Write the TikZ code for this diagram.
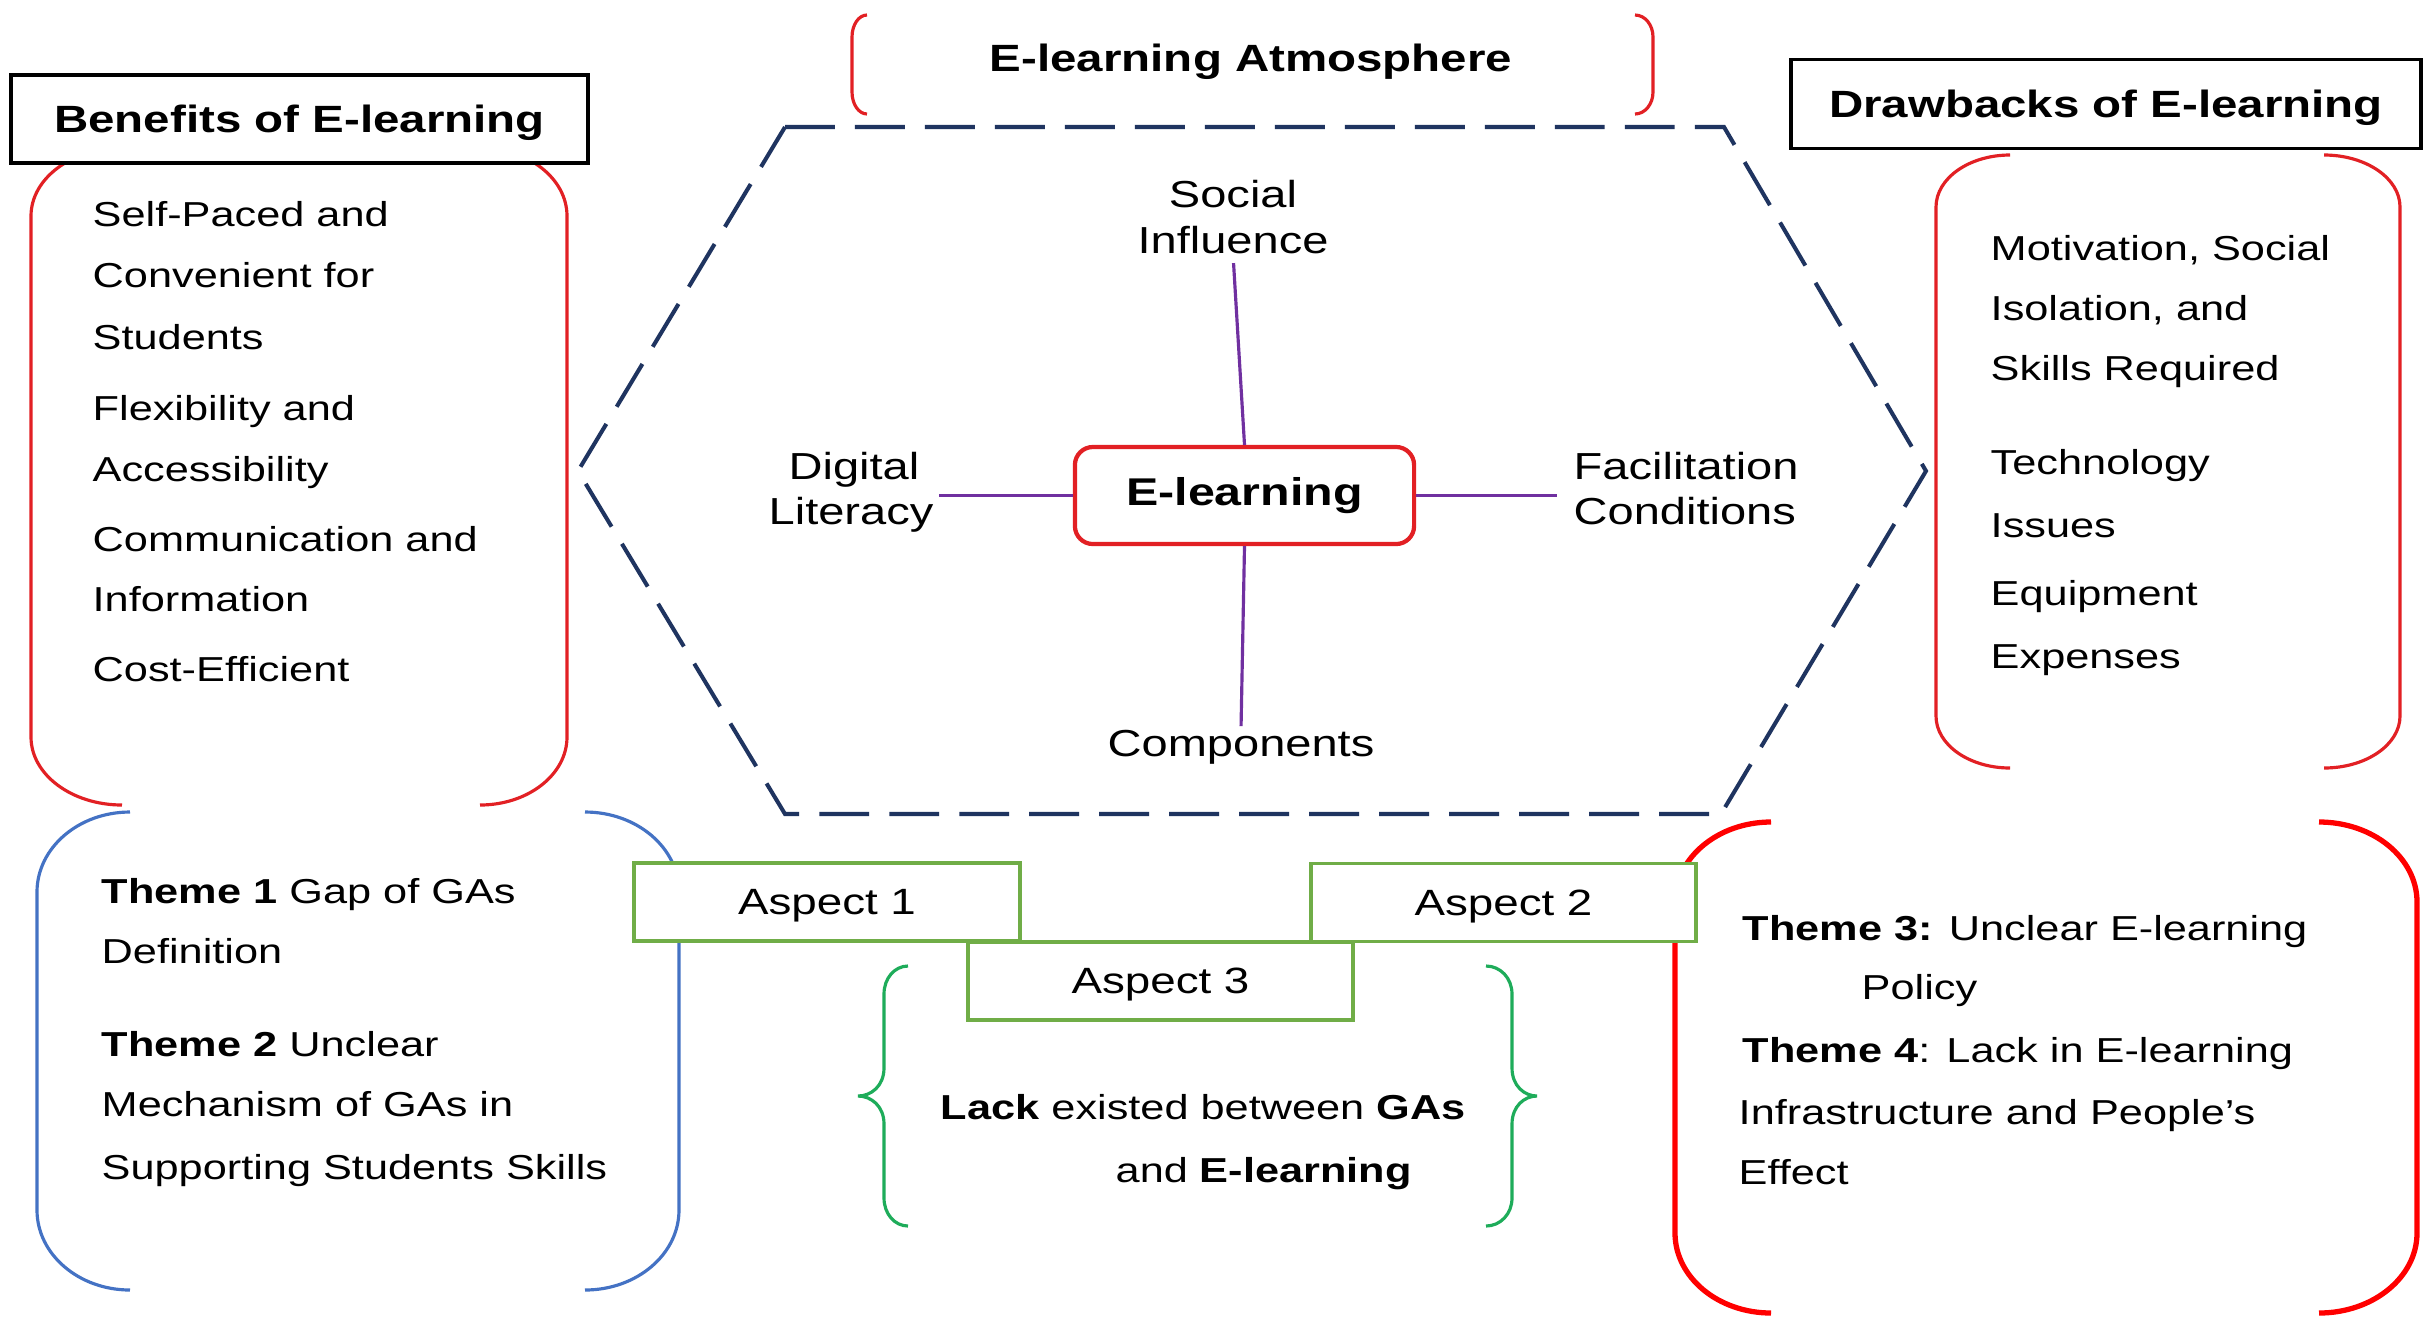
\documentclass[tikz,border=0pt]{standalone}
\usepackage{fontspec}
\setmainfont{Liberation Sans}[FakeStretch=1.25]
\definecolor{brred}{RGB}{226,32,36}
\definecolor{brblue}{RGB}{68,114,196}
\definecolor{aspgreen}{RGB}{112,173,71}
\definecolor{brgreen}{RGB}{30,172,90}
\definecolor{hexnavy}{RGB}{31,52,96}
\definecolor{spokepurple}{RGB}{112,48,160}
\newcommand{\brside}[6]{% #1 opts, #2 x vertical, #3 x end, #4 y top, #5 y bottom, #6 ry
  \draw[#1] (#3,#4) .. controls ({#3+0.5523*(#2-#3)},#4) and (#2,{#4+0.4477*#6}) .. (#2,{#4+#6})
    -- (#2,{#5-#6}) .. controls (#2,{#5-0.4477*#6}) and ({#3+0.5523*(#2-#3)},#5) .. (#3,#5);}
\newcommand{\bracelr}[6]{% #1 opts, #2 x end, #3 x vertical, #4 x tip, #5 y top, #6 y bottom
  \draw[#1] (#2,#5) .. controls ({#2+0.55*(#3-#2)},#5) and (#3,{#5+12}) .. (#3,{#5+28})
    -- (#3,{(#5+#6)/2-28}) .. controls (#3,{(#5+#6)/2-10}) and ({#3+0.5*(#4-#3)},{(#5+#6)/2}) .. (#4,{(#5+#6)/2})
    .. controls ({#3+0.5*(#4-#3)},{(#5+#6)/2}) and (#3,{(#5+#6)/2+10}) .. (#3,{(#5+#6)/2+28})
    -- (#3,{#6-28}) .. controls (#3,{#6-12}) and ({#2+0.55*(#3-#2)},#6) .. (#2,#6);}
\tikzset{
  txt/.style={anchor=base west, inner sep=0pt, font=\fontsize{9.85}{12}\selectfont},
  lbl/.style={anchor=base, inner sep=0pt, font=\fontsize{10.7}{13}\selectfont},
  hdr/.style={draw=black, line width=1pt, fill=white, inner sep=0pt, text depth=0pt,
    font=\bfseries\fontsize{10.8}{13}\selectfont},
  aspect/.style={draw=aspgreen, line width=1.1pt, fill=white, inner sep=0pt, text depth=0pt,
    minimum width=3.85cm, minimum height=0.78cm, font=\fontsize{10.4}{12}\selectfont},
  spoke/.style={draw=spokepurple, line width=0.9pt},
  hexline/.style={draw=hexnavy, line width=1.15pt, dash pattern=on 14.2pt off 5.7pt},
}
\begin{document}
\begin{tikzpicture}[x=0.01cm,y=-0.01cm]
\useasboundingbox[fill=white] (0,0) rectangle (2427,1317);

% brackets
\brside{brred,line width=0.9pt}{31}{122}{148}{805}{68}
\brside{brred,line width=0.9pt}{567}{480}{148}{805}{68}
\brside{brred,line width=0.9pt}{852}{867}{15}{114}{22}
\brside{brred,line width=0.9pt}{1653}{1635}{15}{114}{22}
\brside{brred,line width=0.9pt}{1936}{2010}{155}{768}{52}
\brside{brred,line width=0.9pt}{2400}{2324}{155}{768}{52}
\brside{brblue,line width=0.9pt}{37}{130}{812}{1290}{80}
\brside{brblue,line width=0.9pt}{679}{585}{812}{1290}{80}
\brside{red,line width=1.5pt}{1675}{1771}{822}{1313}{80}
\brside{red,line width=1.5pt}{2417}{2319}{822}{1313}{80}
\bracelr{brgreen,line width=0.9pt}{908}{884}{858}{966}{1226}
\bracelr{brgreen,line width=0.9pt}{1486}{1512}{1537}{966}{1226}

% hexagon
\draw[hexline] (785,127) -- (1724,127) -- (1926,471) -- (1721,814) -- (785,814) -- (578,471) -- cycle;

% headers
\node[hdr, minimum width=5.77cm, minimum height=0.88cm] (benefits) at (299.5,119) {Benefits of E-learning};
\node[hdr, minimum width=6.30cm, minimum height=0.89cm] (drawbacks) at (2106,104) {Drawbacks of E-learning};
\node[inner sep=0pt, anchor=base, font=\bfseries\fontsize{10.8}{13}\selectfont] (atmos) at (1251,71) {E-learning Atmosphere};

% benefits
\node[txt] (b1) at (92,226) {Self-Paced and};
\node[txt] (b2) at (92,287) {Convenient for};
\node[txt] (b3) at (92,349) {Students};
\node[txt] (b4) at (92,420) {Flexibility and};
\node[txt] (b5) at (92,481) {Accessibility};
\node[txt] (b6) at (92,551) {Communication and};
\node[txt] (b7) at (92,611) {Information};
\node[txt] (b8) at (92,681) {Cost-Efficient};

% drawbacks
\node[txt] (d1) at (1990,260) {Motivation, Social};
\node[txt] (d2) at (1990,320) {Isolation, and};
\node[txt] (d3) at (1990,380) {Skills Required};
\node[txt] (d4) at (1990,474) {Technology};
\node[txt] (d5) at (1990,537) {Issues};
\node[txt] (d6) at (1990,605) {Equipment};
\node[txt] (d7) at (1990,668) {Expenses};

% center
\node[draw=brred, line width=1.2pt, rounded corners=0.18cm, fill=white,
  minimum width=3.39cm, minimum height=0.97cm, inner sep=0pt,
  font=\bfseries\fontsize{11}{13}\selectfont] (elc) at (1244.5,495.5) {E-learning};
\node[lbl] (soc) at (1233,207) {Social};
\node[lbl] (infl) at (1233,253) {Influence};
\node[lbl] (dig) at (854,479) {Digital};
\node[lbl] (lit) at (851,524) {Literacy};
\node[lbl, anchor=base west] (fac) at (1573,479) {Facilitation};
\node[lbl, anchor=base west] (cond) at (1573,524) {Conditions};
\node[lbl] (comp) at (1241,756) {Components};
\draw[spoke, shorten >=0.09cm] (elc.north) -- (infl.south);
\draw[spoke, line width=1.1pt, shorten >=0.05cm] (elc.west) -- (elc.west -| lit.east);
\draw[spoke, line width=1.1pt, shorten >=0.16cm] (elc.east) -- (elc.east -| fac.west);
\draw[spoke, shorten >=0.03cm] (elc.south) -- (comp.north);

% themes 1,2
\node[txt] (t1a) at (101,903) {\textbf{Theme 1} Gap of GAs};
\node[txt] (t1b) at (101,963) {Definition};
\node[txt] (t2a) at (101,1056) {\textbf{Theme 2} Unclear};
\node[txt] (t2b) at (101,1116) {Mechanism of GAs in};
\node[txt] (t2c) at (101,1179) {Supporting Students Skills};

% themes 3,4
\node[txt] (t3a) at (1742,940) {\textbf{Theme 3:} Unclear E-learning};
\node[txt] (t3b) at (1861,999) {Policy};
\node[txt] (t4a) at (1742,1062) {\textbf{Theme 4}: Lack in E-learning};
\node[txt] (t4b) at (1738,1124) {Infrastructure and People's};
\node[txt] (t4c) at (1738,1184) {Effect};

% lack
\node[txt] (lack1) at (940,1119) {\textbf{Lack} existed between \textbf{GAs}};
\node[txt] (lack2) at (1115,1182) {and \textbf{E-learning}};

% aspects
\node[aspect] (a1) at (827,902) {Aspect 1};
\node[aspect] (a2) at (1503.5,902.5) {Aspect 2};
\node[aspect] (a3) at (1160.5,981) {Aspect 3};
\end{tikzpicture}
\end{document}
